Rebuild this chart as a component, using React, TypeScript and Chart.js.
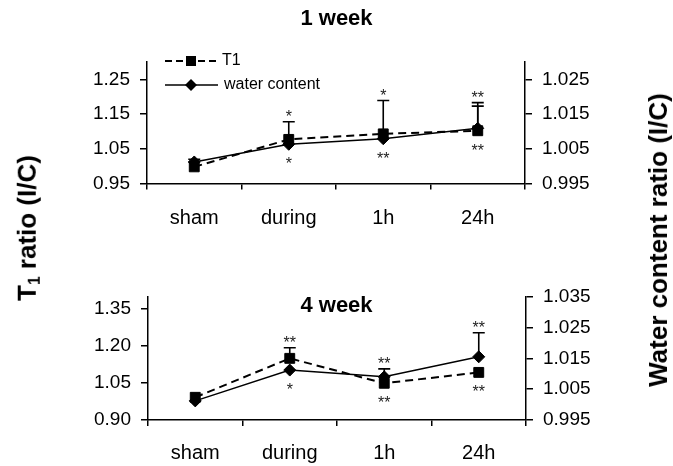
import React, { useEffect, useRef } from "react";
import { Chart, registerables } from "chart.js";
Chart.register(...registerables);

const FONT = "'Liberation Sans', Arial, Helvetica, sans-serif";

const categories = ["sham", "during", "1h", "24h"];

// 1 week panel
const week1Title = "1 week";
const week1T1 = [0.998, 1.077, 1.093, 1.102];
const week1T1Err = [0.022, 0.051, 0.096, 0.081];
const week1Water = [1.0012, 1.0063, 1.0079, 1.0109];
const week1WaterErr = [0, 0, 0, 0.0064];
const week1Above = ["", "*", "*", "**"];
const week1Below = ["", "*", "**", "**"];
const week1LeftTicks = [0.95, 1.05, 1.15, 1.25];
const week1RightTicks = [0.995, 1.005, 1.015, 1.025];
const week1LeftRange = [0.95, 1.3];
const week1RightRange = [0.995, 1.03];

// 4 week panel
const week4Title = "4 week";
const week4T1 = [0.992, 1.15, 1.049, 1.093];
const week4T1Err = [0, 0.043, 0, 0];
const week4Water = [1.0012, 1.0112, 1.009, 1.0155];
const week4WaterErr = [0, 0, 0.0026, 0.0078];
const week4Above = ["", "**", "**", "**"];
const week4Below = ["", "*", "**", "**"];
const week4LeftTicks = [0.9, 1.05, 1.2, 1.35];
const week4RightTicks = [0.995, 1.005, 1.015, 1.025, 1.035];
const week4LeftRange = [0.9, 1.4];
const week4RightRange = [0.995, 1.035];

const legendLabels = ["T1", "water content"];

const annotPlugin = {
  id: "annot",
  afterDatasetsDraw(chart: any, _args: any, opts: any) {
    const ctx = chart.ctx;
    const ca = chart.chartArea;
    ctx.save();
    ctx.strokeStyle = "#000";
    ctx.fillStyle = "#000";
    const metas = chart.data.datasets.map((_d: any, i: number) => chart.getDatasetMeta(i));
    const n = chart.data.labels.length;
    const tops: number[] = [];
    const bottoms: number[] = [];
    for (let j = 0; j < n; j++) {
      let top = Infinity;
      let bottom = -Infinity;
      chart.data.datasets.forEach((ds: any, i: number) => {
        const meta = metas[i];
        const pt = meta.data[j];
        const scale = chart.scales[ds.yAxisID];
        const v = ds.data[j];
        const e = (ds.errorBars || [])[j] || 0;
        top = Math.min(top, pt.y);
        bottom = Math.max(bottom, pt.y);
        if (e > 0) {
          const yt = scale.getPixelForValue(v + e);
          top = Math.min(top, yt);
          ctx.lineWidth = 1.6;
          ctx.setLineDash([]);
          ctx.beginPath();
          ctx.moveTo(pt.x, pt.y);
          ctx.lineTo(pt.x, yt);
          ctx.moveTo(pt.x - 6, yt);
          ctx.lineTo(pt.x + 6, yt);
          ctx.stroke();
        }
      });
      tops.push(top);
      bottoms.push(bottom);
    }
    // significance asterisks
    ctx.font = `16px ${FONT}`;
    ctx.textAlign = "center";
    ctx.textBaseline = "alphabetic";
    ctx.fillStyle = "#222";
    const x0 = metas[0];
    for (let j = 0; j < n; j++) {
      const x = x0.data[j].x;
      const a = opts.above[j];
      const b = opts.below[j];
      if (a) ctx.fillText(a, x, tops[j] - 9 + 9);
      if (b) ctx.fillText(b, x, bottoms[j] + 16 + 9);
    }
    // legend
    if (opts.legend) {
      const rows = [
        { y: ca.top - 1, dash: [7, 4], lw: 2, style: "rect", tx: 75 },
        { y: ca.top + 23, dash: [], lw: 1.4, style: "rectRot", tx: 77 },
      ];
      rows.forEach((r, i) => {
        const xl = ca.left + 18;
        const xr = ca.left + 71;
        const xm = ca.left + 44;
        ctx.strokeStyle = "#000";
        ctx.lineWidth = r.lw;
        ctx.setLineDash(r.dash);
        ctx.beginPath();
        ctx.moveTo(xl, r.y);
        ctx.lineTo(xr, r.y);
        ctx.stroke();
        ctx.setLineDash([]);
        ctx.fillStyle = "#000";
        ctx.beginPath();
        if (r.style === "rect") {
          ctx.rect(xm - 5, r.y - 5, 10, 10);
        } else {
          ctx.moveTo(xm, r.y - 6);
          ctx.lineTo(xm + 6, r.y);
          ctx.lineTo(xm, r.y + 6);
          ctx.lineTo(xm - 6, r.y);
          ctx.closePath();
        }
        ctx.fill();
        ctx.font = `16px ${FONT}`;
        ctx.textAlign = "left";
        ctx.textBaseline = "middle";
        ctx.fillStyle = "#000";
        ctx.fillText(legendLabels[i], ca.left + r.tx, r.y);
      });
    }
    ctx.restore();
  },
};

function makeConfig(p: any) {
  const axisCommon = (ticksArr: number[], range: number[], pos: string, width: number, digits: number) => ({
    type: "linear",
    position: pos,
    min: range[0],
    max: range[1],
    grid: { drawOnChartArea: false, drawTicks: true, tickLength: 7, color: "#000", lineWidth: 1.5 },
    border: { display: true, color: "#000", width: 1.5 },
    ticks: {
      color: "#000",
      font: { size: 19, family: FONT },
      padding: 10,
      callback: (v: number) => Number(v).toFixed(digits),
    },
    afterBuildTicks: (s: any) => {
      s.ticks = ticksArr.map((v) => ({ value: v }));
    },
    afterFit: (s: any) => {
      s.width = width;
    },
  });
  return {
    type: "line",
    data: {
      labels: categories,
      datasets: [
        {
          label: legendLabels[0],
          data: p.t1,
          errorBars: p.t1Err,
          yAxisID: "y",
          borderColor: "#000",
          backgroundColor: "#000",
          borderWidth: 2,
          borderDash: [8, 5],
          pointStyle: "rect",
          pointRadius: 7,
          pointBorderWidth: 1,
          tension: 0,
        },
        {
          label: legendLabels[1],
          data: p.water,
          errorBars: p.waterErr,
          yAxisID: "y1",
          borderColor: "#000",
          backgroundColor: "#000",
          borderWidth: 1.5,
          pointStyle: "rectRot",
          pointRadius: 6,
          pointBorderWidth: 1,
          tension: 0,
        },
      ],
    },
    options: {
      animation: false,
      responsive: false,
      maintainAspectRatio: false,
      layout: { padding: 0 },
      plugins: {
        legend: { display: false },
        tooltip: { enabled: false },
        title: {
          display: true,
          text: p.title,
          color: "#000",
          font: { size: 22, weight: "bold", family: FONT, lineHeight: 1.2 },
          padding: p.titlePadding,
        },
        annot: { above: p.above, below: p.below, legend: p.legend },
      },
      scales: {
        x: {
          type: "category",
          offset: true,
          grid: { offset: true, drawOnChartArea: false, drawTicks: true, tickLength: 6, color: "#000", lineWidth: 1.5 },
          border: { display: true, color: "#000", width: 1.5 },
          ticks: { color: "#000", font: { size: 20, family: FONT }, padding: p.xPad, maxRotation: 0 },
          afterFit: (s: any) => {
            s.height = p.xHeight;
          },
        },
        y: axisCommon(p.leftTicks, p.leftRange, "left", p.leftW, 2),
        y1: axisCommon(p.rightTicks, p.rightRange, "right", p.rightW, 3),
      },
    },
    plugins: [annotPlugin],
  };
}

export default function App() {
  const c1 = useRef<HTMLCanvasElement>(null);
  const c2 = useRef<HTMLCanvasElement>(null);
  useEffect(() => {
    const ch1 = new Chart(
      c1.current as any,
      makeConfig({
        title: week1Title,
        t1: week1T1,
        t1Err: week1T1Err,
        water: week1Water,
        waterErr: week1WaterErr,
        above: week1Above,
        below: week1Below,
        leftTicks: week1LeftTicks,
        rightTicks: week1RightTicks,
        leftRange: week1LeftRange,
        rightRange: week1RightRange,
        legend: true,
        titlePadding: { top: 6, bottom: 29.6 },
        xHeight: 56.5,
        xPad: 17,
        leftW: 147,
        rightW: 148,
      }) as any
    );
    const ch2 = new Chart(
      c2.current as any,
      makeConfig({
        title: week4Title,
        t1: week4T1,
        t1Err: week4T1Err,
        water: week4Water,
        waterErr: week4WaterErr,
        above: week4Above,
        below: week4Below,
        leftTicks: week4LeftTicks,
        rightTicks: week4RightTicks,
        leftRange: week4LeftRange,
        rightRange: week4RightRange,
        legend: false,
        titlePadding: { top: 52.5, bottom: -22.2 },
        xHeight: 46,
        xPad: 15,
        leftW: 148,
        rightW: 147,
      }) as any
    );
    return () => {
      ch1.destroy();
      ch2.destroy();
    };
  }, []);

  const titleBase: React.CSSProperties = {
    position: "absolute",
    transform: "translate(-50%, -50%) rotate(-90deg)",
    whiteSpace: "nowrap",
    fontFamily: FONT,
    fontWeight: "bold",
    fontSize: 26,
    color: "#000",
    lineHeight: 1,
  };

  return (
    <div style={{ position: "absolute", left: 0, top: 0, width: 673, height: 466, background: "#fff", overflow: "hidden" }}>
      <canvas ref={c1} width={673} height={240} style={{ position: "absolute", left: 0, top: 0 }} />
      <canvas ref={c2} width={673} height={226} style={{ position: "absolute", left: 0, top: 240 }} />
      <div style={{ ...titleBase, left: 28, top: 228 }}>
        T<sub style={{ fontSize: "0.6em", verticalAlign: "-0.25em" }}>1</sub> ratio (I/C)
      </div>
      <div style={{ ...titleBase, left: 658, top: 240 }}>Water content ratio (I/C)</div>
    </div>
  );
}
